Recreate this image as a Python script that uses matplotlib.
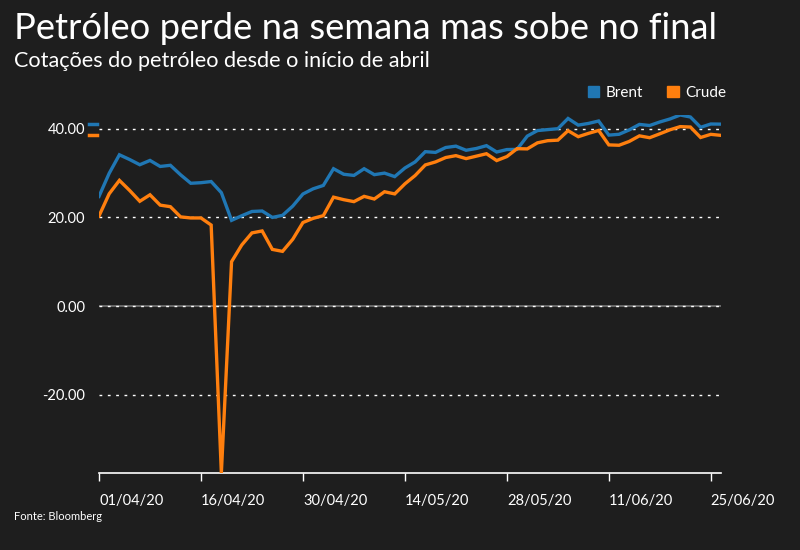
import matplotlib
matplotlib.use("Agg")
import matplotlib.pyplot as plt
import matplotlib.transforms as mtransforms
from matplotlib.patches import Patch

plt.rcParams['font.family'] = ['Lato', 'DejaVu Sans']

dates = ["01/04", "02/04", "03/04", "06/04", "07/04", "08/04", "09/04", "13/04", "14/04", "15/04",
         "16/04", "17/04", "20/04", "21/04", "22/04", "23/04", "24/04", "27/04", "28/04", "29/04",
         "30/04", "01/05", "04/05", "05/05", "06/05", "07/05", "08/05", "11/05", "12/05", "13/05",
         "14/05", "15/05", "18/05", "19/05", "20/05", "21/05", "22/05", "25/05", "26/05", "27/05",
         "28/05", "29/05", "01/06", "02/06", "03/06", "04/06", "05/06", "08/06", "09/06", "10/06",
         "11/06", "12/06", "15/06", "16/06", "17/06", "18/06", "19/06", "22/06", "23/06", "24/06",
         "25/06", "26/06"]

brent = [24.74, 29.94, 34.11, 33.05, 31.87, 32.84, 31.48, 31.74, 29.60, 27.69,
         27.82, 28.08, 25.57, 19.33, 20.37, 21.33, 21.44, 19.99, 20.46, 22.54,
         25.27, 26.44, 27.20, 30.97, 29.72, 29.46, 30.97, 29.63, 29.98, 29.19,
         31.13, 32.50, 34.81, 34.65, 35.75, 36.06, 35.13, 35.53, 36.17, 34.74,
         35.29, 35.33, 38.32, 39.57, 39.79, 39.99, 42.30, 40.80, 41.18, 41.73,
         38.55, 38.73, 39.72, 40.96, 40.71, 41.51, 42.19, 43.08, 42.63, 40.31,
         41.05, 41.02]

crude = [20.31, 25.32, 28.34, 26.08, 23.63, 25.09, 22.76, 22.41, 20.11, 19.87,
         19.87, 18.27, -37.63, 10.01, 13.78, 16.50, 16.94, 12.78, 12.34, 15.06,
         18.84, 19.78, 20.39, 24.56, 23.99, 23.55, 24.74, 24.14, 25.78, 25.29,
         27.56, 29.43, 31.82, 32.50, 33.49, 33.92, 33.25, 33.80, 34.35, 32.81,
         33.71, 35.49, 35.44, 36.81, 37.29, 37.41, 39.55, 38.19, 38.94, 39.60,
         36.34, 36.26, 37.12, 38.38, 37.96, 38.84, 39.75, 40.46, 40.37, 38.01,
         38.72, 38.49]

yticks = [40, 20, 0, -20]

bg = "#1e1e1e"
blue = "#2077b4"
orange = "#ff7f0e"

fig = plt.figure(figsize=(8, 5.5), dpi=100, facecolor=bg)
ax = fig.add_axes([0.12375, 0.14, 0.7775, 0.6509])
ax.set_facecolor(bg)

x = list(range(len(dates)))
ax.plot(x, brent, color=blue, lw=2.4, solid_joinstyle="miter", zorder=3)
ax.plot(x, crude, color=orange, lw=2.4, solid_joinstyle="miter", zorder=4)

ax.set_xlim(0, len(dates) - 1)
ax.set_ylim(min(crude), max(brent))

# grid
for v in yticks:
    if v == 0:
        ax.axhline(v, color="#777777", lw=1.2, zorder=1)
    ax.axhline(v, color="white", lw=1, ls=(0, (2, 4)), zorder=2)

ax.set_yticks(yticks)
ax.set_yticklabels([f"{v:.2f}" for v in yticks])
ax.tick_params(axis="y", length=0, pad=10, labelcolor="white", labelsize=10.5)

ticks = x[::10]
ax.set_xticks(ticks)
ax.set_xticklabels([dates[i] + "/20" for i in ticks], ha="left")
ax.tick_params(axis="x", length=6, width=1, color="white", pad=9,
               labelcolor="white", labelsize=10.5)

for s in ["top", "right", "left"]:
    ax.spines[s].set_visible(False)
ax.spines["bottom"].set_color("white")
ax.spines["bottom"].set_linewidth(1.2)

# last value marks next to y axis
trans = mtransforms.blended_transform_factory(ax.transAxes, ax.transData)
ax.plot([-0.016, -0.003], [brent[-1], brent[-1]], color=blue, lw=2.5,
        transform=trans, clip_on=False)
ax.plot([-0.016, -0.003], [crude[-1], crude[-1]], color=orange, lw=2.5,
        transform=trans, clip_on=False)

handles = [Patch(color=blue, label="Brent"), Patch(color=orange, label="Crude")]
leg = ax.legend(handles=handles, ncol=2, frameon=False, loc="center right",
                bbox_to_anchor=(1.03, 1.062), handlelength=0.75, handleheight=0.75,
                handletextpad=0.4, columnspacing=1.6, fontsize=11)
for t in leg.get_texts():
    t.set_color("white")

fig.text(0.0175, 0.948, "Petróleo perde na semana mas sobe no final", color="white",
         fontsize=26.2, va="center", ha="left")
fig.text(0.0175, 0.889, "Cotações do petróleo desde o início de abril", color="white",
         fontsize=15.6, va="center", ha="left")
fig.text(0.0175, 0.06, "Fonte: Bloomberg", color="white", fontsize=8, va="center", ha="left")

fig.savefig("out.png", dpi=100, facecolor=bg)
